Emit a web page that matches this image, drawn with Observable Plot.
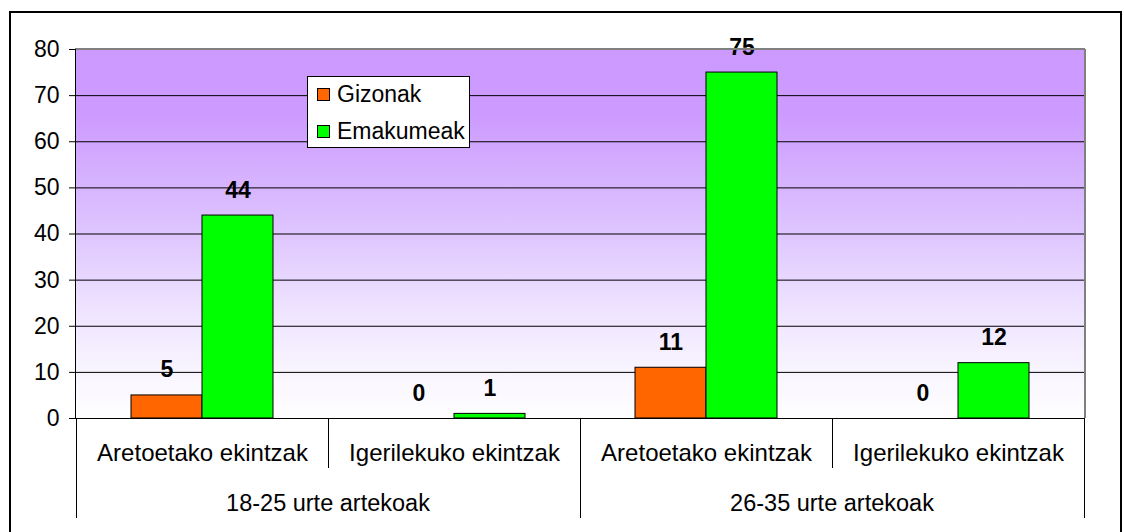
<!DOCTYPE html>
<html><head><meta charset="utf-8">
<script src="https://cdn.jsdelivr.net/npm/d3@7"></script>
<script src="https://cdn.jsdelivr.net/npm/@observablehq/plot@0.6"></script>
<style>
html,body{margin:0;padding:0;background:#fff;}
#wrap{position:relative;width:1124px;height:532px;overflow:hidden;font-family:"Liberation Sans",Arial,sans-serif;}
#chart{position:absolute;left:0;top:0;}
#frame{position:absolute;left:9px;top:11px;width:1109px;height:600px;border:2px solid #000;pointer-events:none;}
#legend{position:absolute;left:307px;top:76px;width:161px;height:70px;border:1px solid #000;background:#fff;}
.item{position:absolute;left:9px;height:22px;display:flex;align-items:center;font-size:23px;color:#000;white-space:nowrap;}
.sw{width:11px;height:11px;border:1px solid #000;margin-right:7px;}
</style></head>
<body><div id="wrap"><div id="chart"></div><div id="legend"></div><div id="frame"></div></div>
<script>
const groups = ["18-25 urte artekoak", "26-35 urte artekoak"];
const activities = ["Aretoetako ekintzak", "Igerilekuko ekintzak"];
const seriesNames = ["Gizonak", "Emakumeak"];
const gizonak = [5, 0, 11, 0];
const emakumeak = [44, 1, 75, 12];
const yTicks = [0, 10, 20, 30, 40, 50, 60, 70, 80];
const seriesColors = ["#FF6600", "#00FF00"];

const rows = [];
groups.forEach((g, gi) => activities.forEach((a, ai) => {
  const i = gi * 2 + ai;
  const key = g + "|" + a;
  rows.push({key, group: g, activity: a, series: seriesNames[0], value: gizonak[i]});
  rows.push({key, group: g, activity: a, series: seriesNames[1], value: emakumeak[i]});
}));
const keys = [...new Set(rows.map(d => d.key))];
const font = '"Liberation Sans", Arial, sans-serif';

const plot = Plot.plot({
  width: 1124, height: 532,
  marginLeft: 75, marginRight: 39, marginTop: 49, marginBottom: 114,
  style: {fontFamily: font, fontSize: "23px", color: "#000", background: "transparent", overflow: "visible"},
  fx: {domain: keys, padding: 0, label: null},
  x: {domain: seriesNames, paddingInner: 0, paddingOuter: 0.753, axis: null},
  y: {domain: [0, 80], label: null},
  color: {domain: seriesNames, range: seriesColors},
  marks: [
    Plot.gridY(yTicks.slice(0, -1), {stroke: "#000", strokeOpacity: 1, strokeWidth: 1}),
    Plot.axisY(yTicks, {anchor: "left", tickSize: 7, tickPadding: 10, fontSize: 23, label: null, stroke: "#000"}),
    Plot.axisFx({anchor: "bottom", tickSize: 0, tickPadding: 25, fontSize: 24, label: null, tickFormat: k => k.split("|")[1]}),
    Plot.barY(rows.filter(d => d.value > 0), {fx: "key", x: "series", y: "value", fill: "series", stroke: "#000", strokeWidth: 1}),
    Plot.text(rows, {fx: "key", x: "series", y: "value", text: d => String(d.value), lineAnchor: "bottom", dy: -18, fontWeight: "bold", fontSize: 23, fill: "#000"})
  ]
});
document.getElementById("chart").appendChild(plot);

// structural decoration using the plot's own scales
const svg = d3.select(plot);
const fx = plot.scale("fx"), ys = plot.scale("y");
const left = fx.range[0], right = fx.range[1];
const yTop = ys.apply(80), yZero = ys.apply(0);

const defs = svg.insert("defs", "g");
const grad = defs.append("linearGradient").attr("id", "bgGrad").attr("x1", 0).attr("y1", 0).attr("x2", 0).attr("y2", 1);
[[0, "#CC99FF"], [0.18, "#CD9BFF"], [0.45, "#DBBFFF"], [0.72, "#EFE5FF"], [0.9, "#FAF7FF"], [1, "#FEFEFF"]]
  .forEach(([o, c]) => grad.append("stop").attr("offset", o).attr("stop-color", c));
svg.insert("rect", "g").attr("x", left).attr("y", yTop).attr("width", right - left).attr("height", yZero - yTop).attr("fill", "url(#bgGrad)");

const deco = svg.append("g").attr("fill", "none").attr("shape-rendering", "crispEdges");
// plot area top/right border
deco.append("line").attr("x1", left).attr("x2", right).attr("y1", yTop).attr("y2", yTop).attr("stroke", "#808080").attr("stroke-width", 2);
deco.append("line").attr("x1", right).attr("x2", right).attr("y1", yTop).attr("y2", yZero).attr("stroke", "#808080").attr("stroke-width", 2);
// value axis line
deco.append("line").attr("x1", left).attr("x2", left).attr("y1", yTop).attr("y2", yZero).attr("stroke", "#000");
// zero line
deco.append("line").attr("x1", left).attr("x2", right).attr("y1", yZero).attr("y2", yZero).attr("stroke", "#000");
// inner category separators
keys.forEach((k, i) => {
  if (i === 0) return;
  const xx = fx.apply(k);
  deco.append("line").attr("x1", xx).attr("x2", xx).attr("y1", yZero).attr("y2", yZero + 50).attr("stroke", "#000");
});
// outer group separators and labels
groups.forEach((g, gi) => {
  const gk = keys.filter(k => k.startsWith(g + "|"));
  const gx0 = fx.apply(gk[0]);
  const gx1 = fx.apply(gk[gk.length - 1]) + fx.bandwidth;
  deco.append("line").attr("x1", gx0).attr("x2", gx0).attr("y1", yZero).attr("y2", yZero + 100).attr("stroke", "#000");
  if (gi === groups.length - 1)
    deco.append("line").attr("x1", gx1).attr("x2", gx1).attr("y1", yZero).attr("y2", yZero + 100).attr("stroke", "#000");
  svg.append("text").attr("x", (gx0 + gx1) / 2).attr("y", yZero + 93)
    .attr("text-anchor", "middle").attr("font-family", font).attr("font-size", 23.5).attr("fill", "#000").text(g);
});

// legend
const legend = d3.select("#legend");
seriesNames.forEach((s, i) => {
  const it = legend.append("div").attr("class", "item").style("top", (6.5 + i * 37) + "px");
  it.append("div").attr("class", "sw").style("background", seriesColors[i]);
  it.append("span").text(s);
});
</script>
</body></html>
